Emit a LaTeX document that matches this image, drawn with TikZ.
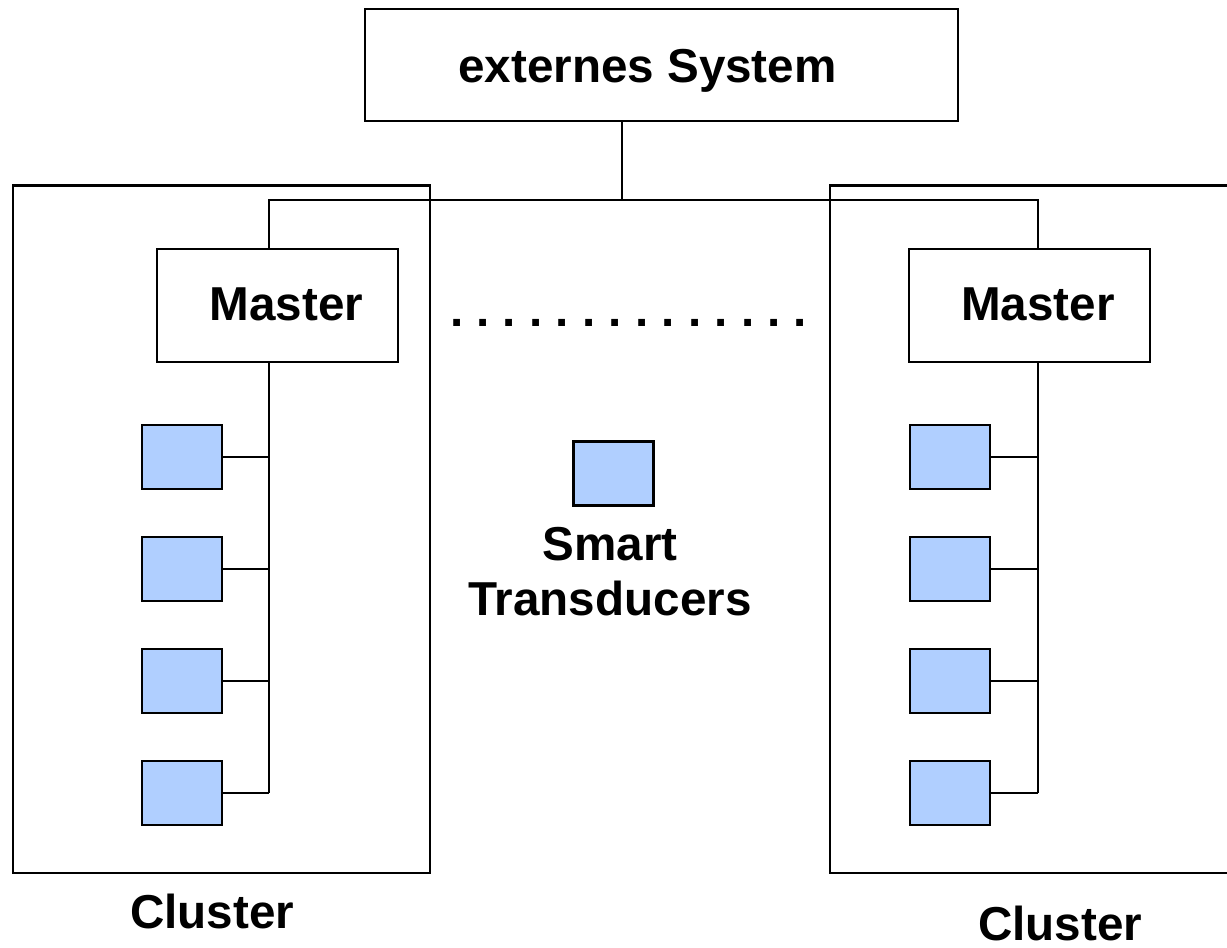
\documentclass[tikz,border=0pt]{standalone}
\usepackage{fontspec}
\setmainfont{Liberation Sans}
\usetikzlibrary{positioning}
\definecolor{sensorblue}{HTML}{B0CFFF}
\tikzset{
  every picture/.style={x=0.5pt, y=-0.5pt, line width=1pt},
  frame/.style 2 args={draw, line width=1.1pt, inner sep=0pt, minimum width=#1, minimum height=#2},
  sensor/.style={draw, line width=1.4pt, fill=sensorblue, inner sep=0pt, minimum width=40pt, minimum height=32pt},
  lbl/.style={font=\fontsize{23.8}{27.5}\selectfont\bfseries, inner sep=0pt, anchor=base},
}

\begin{document}
\frenchspacing
\begin{tikzpicture}
  \clip (0,0) rectangle (1227,948);
  \fill[white] (0,0) rectangle (1227,948);
  % top level
  \node[frame={296.5pt}{56pt}] (ext) at (661.5,65) {};
  \node[lbl] at (647.5,82) {externes System};
  % clusters
  \node[frame={208.5pt}{343.75pt}] (clusterL) at (221.5,529.25) {};
  \node[frame={210pt}{343.75pt}] (clusterR) at (1040,529.25) {};
  \node[lbl] at (212,928) {Cluster};
  \node[lbl] at (1060,940) {Cluster};
  % masters
  \node[frame={120.5pt}{56.5pt}] (masterL) at (277.5,305.5) {};
  \node[frame={120.5pt}{56.5pt}] (masterR) at (1029.5,305.5) {};
  \node[lbl] at (286.5,320) {Master};
  \node[lbl] at (1038,320) {Master};
  \node[lbl, anchor=base west] (dots) at (449,326) {. . . . . . . . . . . . . .};
  % bus
  \coordinate (busL) at (269,200);
  \coordinate (busM) at (622,200);
  \coordinate (busR) at (1038,200);
  \draw (ext.south -| busM) -- (busM);
  \draw (masterL.north -| busL) -- (busL) -- (busR) -- (masterR.north -| busR);
  % transducers
  \foreach \n/\y in {1/457, 2/569, 3/681, 4/793} {
    \node[sensor] (tL\n) at (182,\y) {};
    \node[sensor] (tR\n) at (950,\y) {};
    \draw (tL\n.east) -- (tL\n.east -| busL);
    \draw (tR\n.east) -- (tR\n.east -| busR);
  }
  \draw (masterL.south -| busL) -- (tL4.east -| busL);
  \draw (masterR.south -| busR) -- (tR4.east -| busR);
  \node[sensor] (ts) at (613.5,473.5) {};
  \node[lbl] at (610,560) {Smart};
  \node[lbl] at (610,615) {Transducers};
\end{tikzpicture}
\end{document}
